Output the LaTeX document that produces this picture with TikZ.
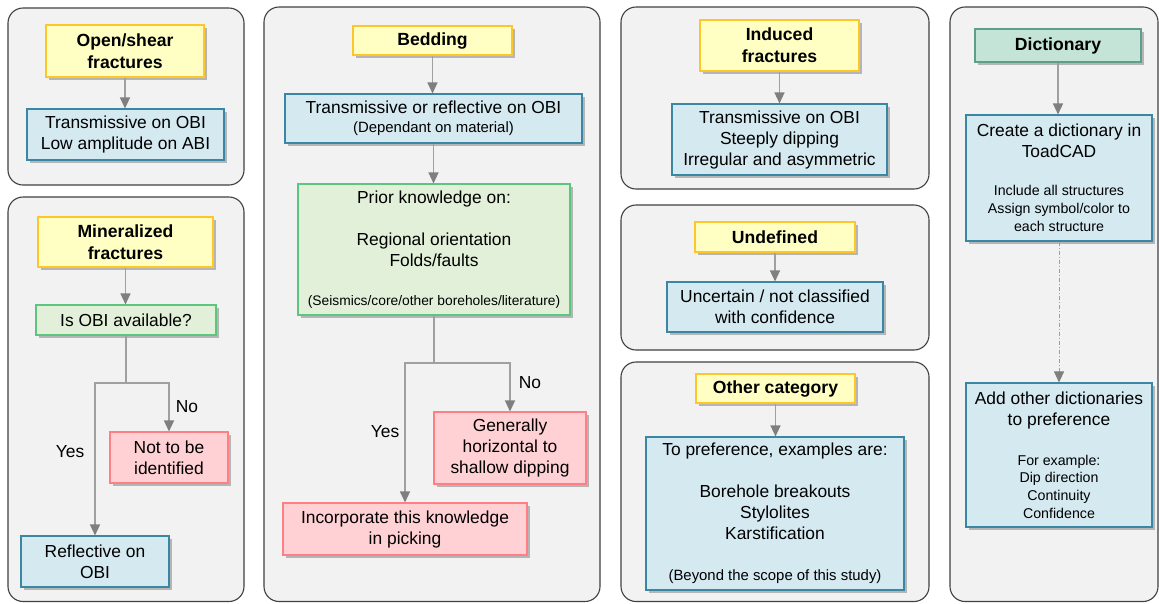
\documentclass[tikz,border=0pt]{standalone}
\usepackage{fontspec}
\setmainfont{Liberation Sans}
\usetikzlibrary{arrows.meta,shadows}

\definecolor{panelfill}{HTML}{F2F2F2}
\definecolor{paneldraw}{HTML}{404040}
\definecolor{ylwfill}{HTML}{FFFFC3}
\definecolor{ylwdraw}{HTML}{FFC62A}
\definecolor{bluefill}{HTML}{D5E9F1}
\definecolor{bluedraw}{HTML}{3A87A3}
\definecolor{grnfill}{HTML}{E2F0D9}
\definecolor{grndraw}{HTML}{5CC67E}
\definecolor{pinkfill}{HTML}{FFD1D4}
\definecolor{pinkdraw}{HTML}{FF7F86}
\definecolor{dictfill}{HTML}{C4E4D8}
\definecolor{dictdraw}{HTML}{5E9F8A}
\definecolor{linegray}{HTML}{A0A0A0}
\definecolor{tipgray}{HTML}{7F7F7F}

\newcommand\smtxt{\fontsize{14.2}{17}\selectfont}
\newcommand\paren{\fontsize{14.9}{17}\selectfont}
\newcommand\tinytxt{\fontsize{13.8}{16}\selectfont}

\tikzset{
  panel/.style={fill=panelfill, draw=paneldraw, line width=1.1pt, rounded corners=15pt},
  sz/.style 2 args={minimum width=#1pt, minimum height=#2pt},
  basebox/.style={inner sep=0pt, line width=1.1pt, align=center,
    font=\fontsize{17.4}{21}\selectfont,
    drop shadow={shadow xshift=2.5pt, shadow yshift=-2.5pt, opacity=0.25, fill=black}},
  ttlbox/.style={basebox, fill=ylwfill, draw=ylwdraw, font=\bfseries\fontsize{17.6}{22}\selectfont},
  bluebox/.style={basebox, fill=bluefill, draw=bluedraw},
  grnbox/.style={basebox, fill=grnfill, draw=grndraw},
  pinkbox/.style={basebox, fill=pinkfill, draw=pinkdraw},
  dictbox/.style={basebox, fill=dictfill, draw=dictdraw, font=\bfseries\fontsize{17.6}{22}\selectfont},
  lin/.style={draw=linegray, line width=1.3pt},
  arr/.style={lin, -{Triangle[width=10pt,length=11pt,color=tipgray]}},
  dotarr/.style={draw=linegray, line width=0.8pt, dash pattern=on 4pt off 2pt on 1pt off 2pt,
    -{Triangle[width=10pt,length=11pt,color=tipgray]}},
  lbl/.style={inner sep=0pt, font=\fontsize{17.4}{21}\selectfont}
}

\begin{document}
\begin{tikzpicture}[x=1pt, y=-1pt]
\useasboundingbox[fill=white] (0,0) rectangle (1159,603);

% group panels
\draw[panel] (8,8) rectangle (244,185);
\draw[panel] (8,197) rectangle (244,601.5);
\draw[panel] (264,7) rectangle (600,601.5);
\draw[panel] (621,7) rectangle (929,189);
\draw[panel] (621,205) rectangle (929,350);
\draw[panel] (621,362) rectangle (929,601.5);
\draw[panel] (950,7) rectangle (1158,601.5);

% open/shear fractures
\node[ttlbox, sz={158}{52}] (os) at (125,51) {Open/shear\\fractures};
\node[bluebox, sz={197}{51}] (ost) at (125.5,134.5) {Transmissive on OBI\\Low amplitude on ABI};
\draw[arr] (os.south) -- (os.south |- ost.north);

% mineralized fractures
\node[ttlbox, sz={175}{50}] (mf) at (125.5,242) {Mineralized\\fractures};
\node[grnbox, sz={180}{30}] (obi) at (126,320) {Is OBI available?};
\node[pinkbox, sz={118}{51}] (nid) at (169,457.5) {Not to be\\identified};
\node[bluebox, sz={148}{51}] (refl) at (95,561.5) {Reflective on\\OBI};
\draw[arr] (mf.south) -- (mf.south |- obi.north);
\coordinate (mjy) at (0,383);
\coordinate (mj) at (obi.south |- mjy);
\draw[lin] (obi.south) -- (mj);
\draw[arr] (mj) -| (nid.north);
\draw[arr] (mj) -| (refl.north);
\node[lbl] (no1) at (187,407) {No};
\node[lbl] (yes1) at (70,452) {Yes};

% bedding
\node[ttlbox, sz={159}{29}] (bed) at (432.5,40.5) {Bedding};
\node[bluebox, sz={297}{49}] (tro) at (433.5,118.5) {Transmissive or reflective on OBI\\[-2pt]{\paren (Dependant on material)}};
\node[grnbox, sz={272}{131}] (prior) at (434,249.5) {Prior knowledge on:\\[21pt]Regional orientation\\Folds/faults\\[18pt]{\tinytxt (Seismics/core/other boreholes/literature)}};
\node[pinkbox, sz={152}{72}] (hor) at (510,448) {Generally\\horizontal to\\shallow dipping};
\node[pinkbox, sz={244}{52}] (inc) at (405,529) {Incorporate this knowledge\\in picking};
\draw[arr] (bed.south) -- (bed.south |- tro.north);
\draw[arr] (tro.south) -- (tro.south |- prior.north);
\coordinate (bjy) at (0,363);
\coordinate (bj) at (prior.south |- bjy);
\draw[lin] (prior.south) -- (bj);
\draw[arr] (bj) -| (hor.north);
\draw[arr] (bj) -| (inc.north);
\node[lbl] (no2) at (530,383) {No};
\node[lbl] (yes2) at (385,432) {Yes};

% induced fractures
\node[ttlbox, sz={159}{51}] (ind) at (779.5,45.5) {Induced\\fractures};
\node[bluebox, sz={215}{71}] (indt) at (779.5,139.5) {Transmissive on OBI\\Steeply dipping\\Irregular and asymmetric};
\draw[arr] (ind.south) -- (ind.south |- indt.north);

% undefined
\node[ttlbox, sz={160}{30}] (und) at (775,237) {Undefined};
\node[bluebox, sz={216}{50}] (undt) at (775,307) {Uncertain / not classified\\with confidence};
\draw[arr] (und.south) -- (und.south |- undt.north);

% other category
\node[ttlbox, sz={159}{29}] (oth) at (775.5,388.5) {Other category};
\node[bluebox, sz={258}{153}] (otht) at (775,513.5) {To preference, examples are:\\[21pt]Borehole breakouts\\Stylolites\\Karstification\\[20pt]{\paren (Beyond the scope of this study)}};
\draw[arr] (oth.south) -- (oth.south |- otht.north);

% dictionary
\node[dictbox, sz={166}{33}] (dict) at (1058,45.5) {Dictionary};
\node[bluebox, sz={186}{126}] (crt) at (1059,178) {Create a dictionary in\\ToadCAD\\[17pt]{\smtxt Include all structures}\\[-3pt]{\smtxt Assign symbol/color to}\\[-3pt]{\smtxt each structure}};
\node[bluebox, sz={186}{144}] (add) at (1059,455) {Add other dictionaries\\to preference\\[19pt]{\smtxt For example:}\\[-3.3pt]{\smtxt Dip direction}\\[-3.3pt]{\smtxt Continuity}\\[-3.3pt]{\smtxt Confidence}};
\draw[arr] (dict.south) -- (dict.south |- crt.north);
\draw[dotarr] (crt.south) -- (crt.south |- add.north);
\end{tikzpicture}
\end{document}
